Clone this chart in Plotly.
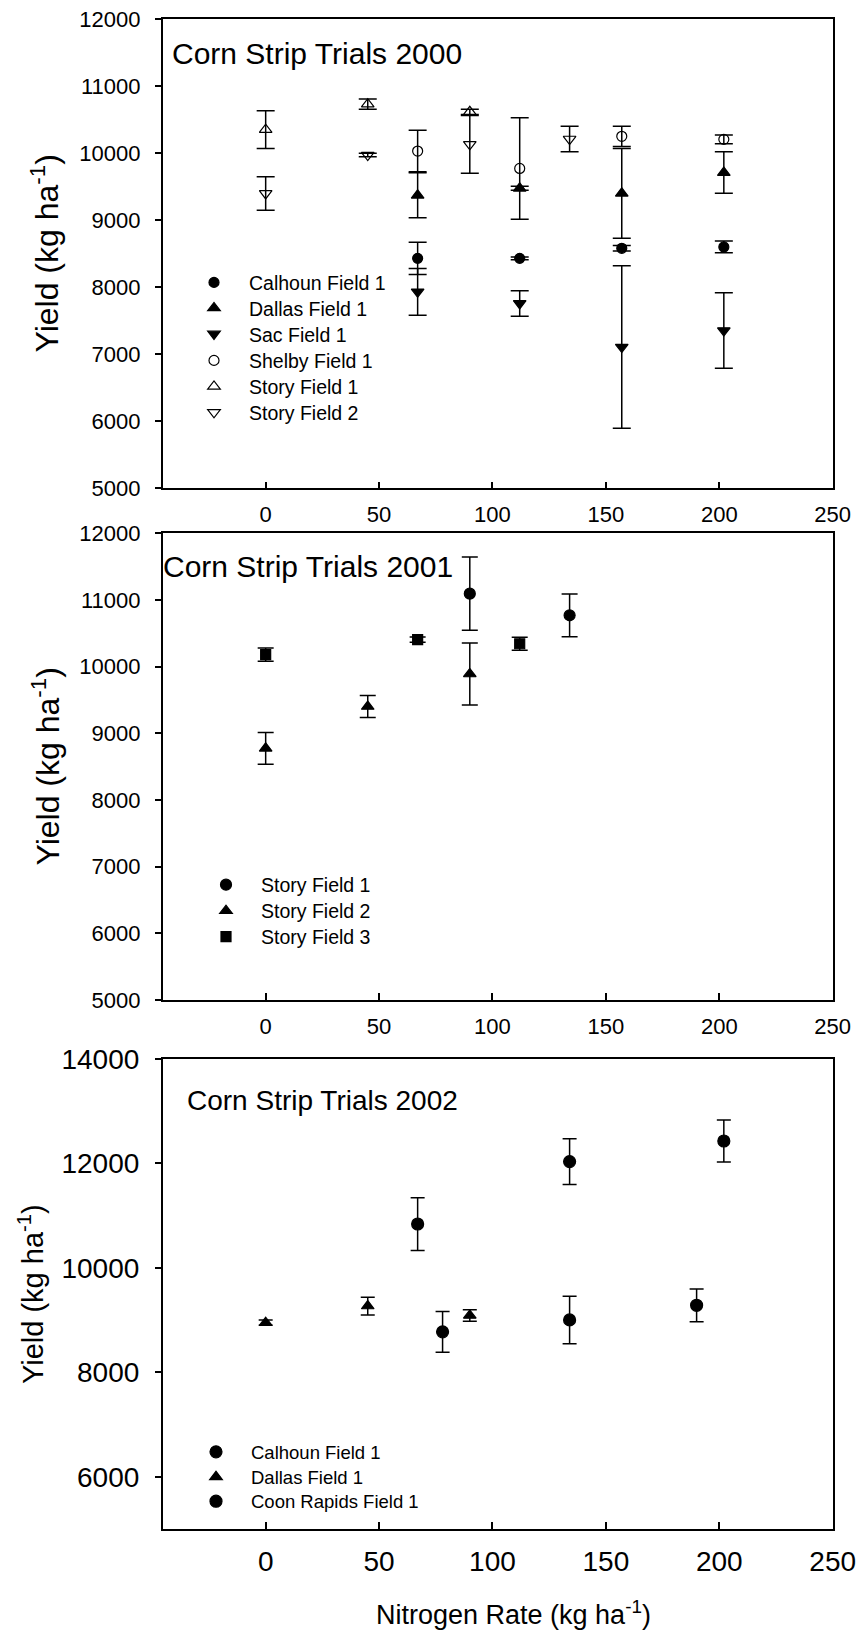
import plotly.graph_objects as go

# ---------------- data ----------------
# 2000
cal00_x = [67, 112, 157, 202]
cal00_y = [8430, 8430, 8580, 8600]
cal00_e = [240, 20, 40, 87]
dal00_x = [67, 112, 157, 202]
dal00_y = [9370, 9475, 9400, 9710]
dal00_e = [335, 30, 670, 310]
sac00_x = [67, 112, 157, 202]
sac00_y = [7930, 7758, 7107, 7353]
sac00_e = [348, 190, 1213, 564]
she00_x = [67, 112, 157, 202]
she00_y = [10030, 9771, 10250, 10205]
she00_e = [310, 757, 150, 65]
st100_x = [0, 45, 90]
st100_y = [10350, 10729, 10615]
st100_e = [280, 77, 40]
st200_x = [0, 45, 90, 134]
st200_y = [9398, 9971, 10130, 10210]
st200_e = [250, 25, 430, 190]

# 2001
st101_x = [90, 134]
st101_y = [11095, 10770]
st101_e = [550, 320]
st201_x = [0, 45, 90]
st201_y = [8775, 9402, 9890]
st201_e = [238, 165, 465]
st301_x = [0, 67, 112]
st301_y = [10180, 10406, 10343]
st301_e = [100, 40, 97]

# 2002
cal02_x = [67, 134, 202]
cal02_y = [10840, 12035, 12430]
cal02_e = [505, 440, 400]
dal02_x = [0, 45, 90]
dal02_y = [8950, 9270, 9090]
dal02_e = [50, 170, 110]
coo02_x = [78, 134, 190]
coo02_y = [8776, 9003, 9284]
coo02_e = [390, 455, 313]

x_ticks = [0, 50, 100, 150, 200, 250]
y_ticks_a = [5000, 6000, 7000, 8000, 9000, 10000, 11000, 12000]
y_ticks_c = [6000, 8000, 10000, 12000, 14000]

titles = ["Corn Strip Trials 2000", "Corn Strip Trials 2001", "Corn Strip Trials 2002"]
ytitle = "Yield (kg ha<sup>-1</sup>)"
xtitle = "Nitrogen Rate (kg ha<sup>-1</sup>)"

# ---------------- figure ----------------
W, H = 859, 1637
FONT = "Liberation Sans, Arial, sans-serif"

def px(v):
    return v / W

def py(v):
    return 1 - v / H

fig = go.Figure()
legends = {}
_n = [0]

def add(xs, ys, es, name, symbol, xa, ya, leg_x, leg_y, leg_fs, size=11, capw=8):
    _n[0] += 1
    lid = "legend" if _n[0] == 1 else "legend%d" % _n[0]
    fig.add_trace(go.Scatter(
        x=xs, y=ys, mode="markers", name=name,
        marker=dict(symbol=symbol, size=size, color="black",
                    line=dict(color="black", width=1.2)),
        error_y=dict(type="data", array=es, visible=True, color="black",
                     thickness=1.5, width=capw),
        xaxis=xa, yaxis=ya, legend=lid, showlegend=True,
    ))
    legends[lid] = dict(x=px(leg_x), y=py(leg_y), xanchor="left", yanchor="middle",
                        bgcolor="rgba(0,0,0,0)", borderwidth=0, itemwidth=60,
                        itemclick=False, itemdoubleclick=False,
                        font=dict(family=FONT, size=leg_fs, color="black"))

# panel 1 legend rows
L1X, L1F = 179, 19.5
add(cal00_x, cal00_y, cal00_e, "Calhoun Field 1", "circle", "x", "y", L1X, 282.7, L1F, 10, 9)
add(dal00_x, dal00_y, dal00_e, "Dallas Field 1", "triangle-up", "x", "y", L1X, 308.3, L1F, 11, 9)
add(sac00_x, sac00_y, sac00_e, "Sac Field 1", "triangle-down", "x", "y", L1X, 334.3, L1F, 11, 9)
add(she00_x, she00_y, she00_e, "Shelby Field 1", "circle-open", "x", "y", L1X, 360.7, L1F, 10, 9)
add(st100_x, st100_y, st100_e, "Story Field 1", "triangle-up-open", "x", "y", L1X, 386.7, L1F, 11, 9)
add(st200_x, st200_y, st200_e, "Story Field 2", "triangle-down-open", "x", "y", L1X, 412.7, L1F, 11, 9)

# panel 2
L2X, L2F = 191, 19.5
add(st101_x, st101_y, st101_e, "Story Field 1", "circle", "x2", "y2", L2X, 885, L2F, 11)
add(st201_x, st201_y, st201_e, "Story Field 2", "triangle-up", "x2", "y2", L2X, 911, L2F, 11)
add(st301_x, st301_y, st301_e, "Story Field 3", "square", "x2", "y2", L2X, 937, L2F, 10)

# panel 3
L3X, L3F = 181, 18.5
add(cal02_x, cal02_y, cal02_e, "Calhoun Field 1", "circle", "x3", "y3", L3X, 1452.3, L3F, 12, 7)
add(dal02_x, dal02_y, dal02_e, "Dallas Field 1", "triangle-up", "x3", "y3", L3X, 1477.3, L3F, 11, 7)
add(coo02_x, coo02_y, coo02_e, "Coon Rapids Field 1", "circle", "x3", "y3", L3X, 1501.7, L3F, 12, 7)

xdom = [px(162.7), px(832.7)]
ydoms = [[py(488.3), py(19)], [py(1000), py(533.3)], [py(1529), py(1059)]]
yranges = [[5000, 12000], [5000, 12000], [5000, 14000]]
yticks = [y_ticks_a, y_ticks_a, y_ticks_c]
tfs = [22, 22, 28]

for i in range(3):
    sfx = "" if i == 0 else str(i + 1)
    fig.update_layout(**{
        "xaxis" + sfx: dict(
            domain=xdom, range=[-45.4, 250], anchor="y" + sfx,
            tickvals=x_ticks, tickformat="d", ticks="inside", ticklen=7, tickwidth=1.5,
            tickcolor="black", showline=True, linecolor="black", linewidth=1.5,
            mirror=True, showgrid=False, zeroline=False, automargin=False,
            tickfont=dict(family=FONT, size=tfs[i], color="black"),
            ticklabelstandoff=6 if i < 2 else 7,
        ),
        "yaxis" + sfx: dict(
            domain=ydoms[i], range=yranges[i], anchor="x" + sfx,
            tickvals=yticks[i], tickformat="d", ticks="outside", ticklen=6, tickwidth=1.5,
            tickcolor="black", showline=True, linecolor="black", linewidth=1.5,
            mirror=True, showgrid=False, zeroline=False, automargin=False,
            tickfont=dict(family=FONT, size=tfs[i], color="black"),
            ticklabelstandoff=10,
        ),
    })

fig.update_layout(**legends)

ann = []
ann.append(dict(text=titles[0], x=px(170), y=py(53.3), xanchor="left", yanchor="middle",
                font=dict(family=FONT, size=30, color="black")))
ann.append(dict(text=titles[1], x=px(161), y=py(566.7), xanchor="left", yanchor="middle",
                font=dict(family=FONT, size=30, color="black")))
ann.append(dict(text=titles[2], x=px(185), y=py(1100), xanchor="left", yanchor="middle",
                font=dict(family=FONT, size=28, color="black")))
for yc, xc, fs in [(253.5, 45, 32), (766.5, 45, 32), (1294, 31, 29)]:
    ann.append(dict(text=ytitle, x=px(xc), y=py(yc), xanchor="center", yanchor="middle",
                    textangle=-90, font=dict(family=FONT, size=fs, color="black")))
ann.append(dict(text=xtitle, x=px(513), y=py(1613), xanchor="center", yanchor="middle",
                font=dict(family=FONT, size=27, color="black")))
for a in ann:
    a.update(xref="paper", yref="paper", showarrow=False)

fig.update_layout(
    template="none",
    width=W, height=H, autosize=False,
    margin=dict(l=0, r=0, t=0, b=0, pad=0, autoexpand=False),
    paper_bgcolor="white", plot_bgcolor="white",
    annotations=ann,
    font=dict(family=FONT, color="black"),
)

fig.write_html("out.html", post_script="document.body.style.margin='0';",
               config={"displayModeBar": False})
